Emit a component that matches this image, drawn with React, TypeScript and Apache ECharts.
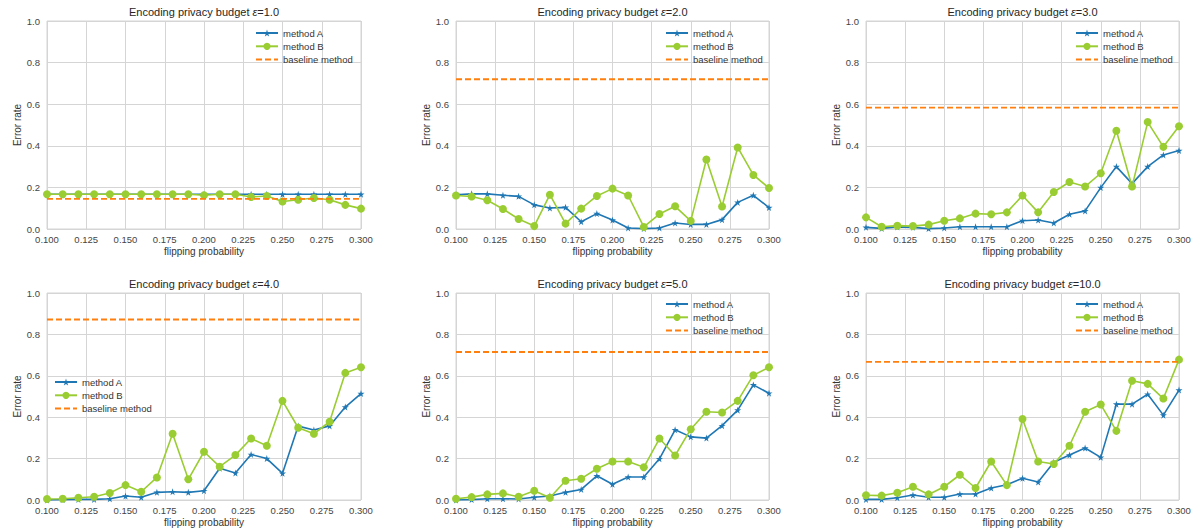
import React, { useEffect, useRef } from "react";
import * as echarts from "echarts";

const flipProb = [0.1, 0.11, 0.12, 0.13, 0.14, 0.15, 0.16, 0.17, 0.18, 0.19, 0.2, 0.21, 0.22, 0.23, 0.24, 0.25, 0.26, 0.27, 0.28, 0.29, 0.3];
const epsilonLabels = ["1.0", "2.0", "3.0", "4.0", "5.0", "10.0"];

const methodA1 = [0.167, 0.167, 0.167, 0.167, 0.167, 0.167, 0.167, 0.167, 0.167, 0.167, 0.167, 0.167, 0.167, 0.167, 0.167, 0.167, 0.167, 0.167, 0.167, 0.167, 0.167];
const methodB1 = [0.167, 0.167, 0.167, 0.167, 0.167, 0.167, 0.167, 0.167, 0.167, 0.167, 0.162, 0.167, 0.167, 0.154, 0.159, 0.132, 0.141, 0.149, 0.141, 0.116, 0.098];
const methodA2 = [0.165, 0.169, 0.169, 0.162, 0.157, 0.116, 0.101, 0.104, 0.035, 0.074, 0.043, 0.005, 0.002, 0.005, 0.029, 0.022, 0.022, 0.045, 0.128, 0.162, 0.103];
const methodB2 = [0.161, 0.156, 0.138, 0.096, 0.048, 0.014, 0.165, 0.026, 0.098, 0.159, 0.194, 0.161, 0.01, 0.072, 0.109, 0.039, 0.334, 0.108, 0.392, 0.26, 0.197];
const methodA3 = [0.008, 0.003, 0.01, 0.008, 0.002, 0.005, 0.011, 0.011, 0.011, 0.011, 0.04, 0.043, 0.029, 0.071, 0.087, 0.199, 0.3, 0.218, 0.3, 0.356, 0.377];
const methodB3 = [0.056, 0.011, 0.016, 0.014, 0.021, 0.04, 0.051, 0.074, 0.071, 0.08, 0.161, 0.08, 0.178, 0.226, 0.204, 0.268, 0.472, 0.204, 0.514, 0.395, 0.494];
const methodA4 = [0.0, 0.002, 0.003, 0.003, 0.006, 0.019, 0.013, 0.037, 0.04, 0.037, 0.045, 0.153, 0.13, 0.22, 0.2, 0.129, 0.357, 0.338, 0.358, 0.449, 0.514];
const methodB4 = [0.005, 0.006, 0.011, 0.016, 0.034, 0.072, 0.04, 0.109, 0.32, 0.1, 0.233, 0.161, 0.217, 0.297, 0.262, 0.479, 0.349, 0.32, 0.378, 0.614, 0.641];
const methodA5 = [0.0, 0.002, 0.006, 0.006, 0.005, 0.013, 0.019, 0.037, 0.051, 0.117, 0.076, 0.111, 0.111, 0.199, 0.339, 0.305, 0.299, 0.359, 0.434, 0.556, 0.516];
const methodB5 = [0.006, 0.014, 0.027, 0.032, 0.016, 0.045, 0.011, 0.093, 0.103, 0.151, 0.186, 0.186, 0.158, 0.297, 0.215, 0.342, 0.426, 0.423, 0.479, 0.603, 0.641];
const methodA6 = [0.003, 0.003, 0.011, 0.024, 0.013, 0.013, 0.029, 0.029, 0.058, 0.074, 0.105, 0.087, 0.182, 0.217, 0.251, 0.206, 0.463, 0.463, 0.511, 0.41, 0.531];
const methodB6 = [0.023, 0.021, 0.035, 0.064, 0.027, 0.064, 0.122, 0.058, 0.186, 0.072, 0.391, 0.186, 0.174, 0.262, 0.426, 0.461, 0.334, 0.576, 0.561, 0.49, 0.678];
const baselineValues = [0.145, 0.72, 0.584, 0.872, 0.715, 0.667];

const methodAList = [methodA1, methodA2, methodA3, methodA4, methodA5, methodA6];
const methodBList = [methodB1, methodB2, methodB3, methodB4, methodB5, methodB6];

const seriesNames = ["method A", "method B", "baseline method"];
const xTicks = { min: 0.1, max: 0.3, interval: 0.025 };
const yTicks = { min: 0, max: 1, interval: 0.2 };

// layout
const grids = [
  { left: 47, top: 21, width: 314, height: 208 },
  { left: 456, top: 21, width: 313, height: 208 },
  { left: 866, top: 21, width: 313, height: 208 },
  { left: 47, top: 293, width: 314, height: 207 },
  { left: 456, top: 293, width: 313, height: 207 },
  { left: 866, top: 293, width: 313, height: 207 },
];
const legendPos = [
  { left: 255, top: 28 },
  { left: 665, top: 28 },
  { left: 1075, top: 28 },
  { left: 54, top: 377 },
  { left: 665, top: 299 },
  { left: 1075, top: 299 },
];

const STAR = "path://M50,0 L61,35 L98,35 L68,57 L79,91 L50,70 L21,91 L32,57 L2,35 L39,35 Z";
const BLUE = "#1f77b4";
const GREEN = "#9acd32";
const ORANGE = "#ff7f0e";
const GRIDC = "#d5d5d5";
const FONT = "Liberation Sans, Arial, sans-serif";

export default function App() {
  const ref = useRef<HTMLDivElement>(null);
  useEffect(() => {
    if (!ref.current) return;
    const chart = echarts.init(ref.current, null, { renderer: "svg" });
    const grid: any[] = [];
    const xAxis: any[] = [];
    const yAxis: any[] = [];
    const series: any[] = [];
    const title: any[] = [];
    const legend: any[] = [];
    grids.forEach((g, i) => {
      grid.push({ ...g, show: true, borderColor: GRIDC, borderWidth: 1, backgroundColor: "#fff" });
      xAxis.push({
        type: "value",
        gridIndex: i,
        min: xTicks.min,
        max: xTicks.max,
        interval: xTicks.interval,
        name: "flipping probability",
        nameLocation: "middle",
        nameGap: 17,
        nameTextStyle: { fontSize: 10, color: "#333", fontFamily: FONT },
        axisLine: { show: false },
        axisTick: { show: false },
        axisLabel: {
          fontSize: 9.5,
          color: "#444",
          fontFamily: FONT,
          margin: 5,
          formatter: (v: number) => v.toFixed(3),
        },
        splitLine: { show: true, lineStyle: { color: GRIDC, width: 1 } },
      });
      yAxis.push({
        type: "value",
        gridIndex: i,
        min: yTicks.min,
        max: yTicks.max,
        interval: yTicks.interval,
        name: "Error rate",
        nameLocation: "middle",
        nameGap: 25,
        nameTextStyle: { fontSize: 10, color: "#333", fontFamily: FONT },
        axisLine: { show: false },
        axisTick: { show: false },
        axisLabel: {
          fontSize: 9.5,
          color: "#444",
          fontFamily: FONT,
          margin: 7,
          formatter: (v: number) => v.toFixed(1),
        },
        splitLine: { show: true, lineStyle: { color: GRIDC, width: 1 } },
      });
      title.push({
        text: "Encoding privacy budget {e|ε}=" + epsilonLabels[i],
        left: g.left + g.width / 2,
        top: g.top - 15,
        textAlign: "center",
        padding: 0,
        textStyle: {
          fontSize: 11,
          fontWeight: "normal",
          color: "#262626",
          fontFamily: FONT,
          rich: { e: { fontStyle: "italic", fontSize: 11, color: "#262626", fontFamily: FONT } },
        },
      });
      legend.push({
        orient: "vertical",
        left: legendPos[i].left,
        top: legendPos[i].top,
        padding: 0,
        itemWidth: 22,
        itemHeight: 9,
        itemGap: 3.3,
        data: [
          seriesNames[0],
          seriesNames[1],
          { name: seriesNames[2], itemStyle: { opacity: 0 } },
        ],
        textStyle: { fontSize: 9.5, color: "#333", fontFamily: FONT },
        selectedMode: false,
      });
      series.push({
        name: seriesNames[0],
        type: "line",
        xAxisIndex: i,
        yAxisIndex: i,
        data: flipProb.map((x, k) => [x, methodAList[i][k]]),
        symbol: STAR,
        symbolSize: 7,
        lineStyle: { color: BLUE, width: 1.6 },
        itemStyle: { color: BLUE },
        z: 2,
      });
      series.push({
        name: seriesNames[1],
        type: "line",
        xAxisIndex: i,
        yAxisIndex: i,
        data: flipProb.map((x, k) => [x, methodBList[i][k]]),
        symbol: "circle",
        symbolSize: 8,
        lineStyle: { color: GREEN, width: 1.6 },
        itemStyle: { color: GREEN },
        z: 3,
      });
      series.push({
        name: seriesNames[2],
        type: "line",
        xAxisIndex: i,
        yAxisIndex: i,
        data: flipProb.map((x) => [x, baselineValues[i]]),
        symbol: "none",
        lineStyle: { color: ORANGE, width: 1.8, type: [6, 3] },
        itemStyle: { color: ORANGE },
        z: 4,
      });
    });
    chart.setOption({
      animation: false,
      backgroundColor: "#fff",
      grid,
      xAxis,
      yAxis,
      series,
      title,
      legend,
    });
    return () => chart.dispose();
  }, []);
  return (
    <div
      ref={ref}
      style={{ position: "fixed", left: 0, top: 0, width: 1195, height: 531 }}
    />
  );
}
